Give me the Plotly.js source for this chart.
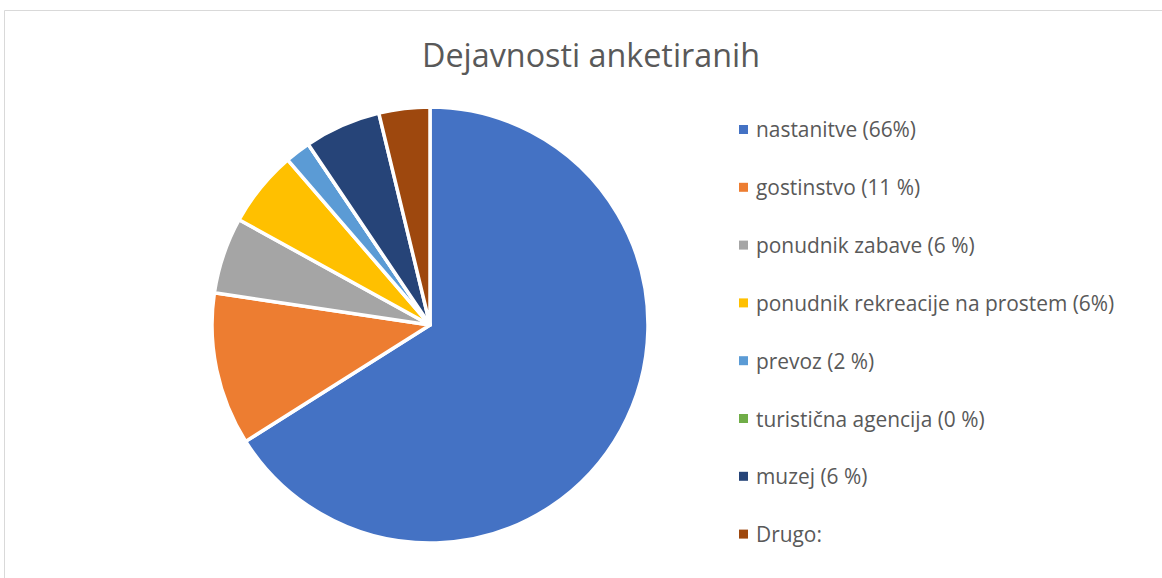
<!DOCTYPE html>
<html>
<head>
<meta charset="utf-8">
<script src="https://cdn.plot.ly/plotly-3.0.1.min.js"></script>
<style>html,body{margin:0;padding:0;background:#fff;}#chart{width:1162px;height:578px;}</style>
</head>
<body>
<div id="chart"></div>
<script>
const titleText = "Dejavnosti anketiranih";
const labels = ["nastanitve (66%)", "gostinstvo (11 %)", "ponudnik zabave (6 %)", "ponudnik rekreacije na prostem (6%)", "prevoz (2 %)", "turistična agencija (0 %)", "muzej (6 %)", "Drugo:"];
const values = [35, 6, 3, 3, 1, 0, 3, 2];
const colors = ["#4472C4", "#ED7D31", "#A5A5A5", "#FFC000", "#5B9BD5", "#70AD47", "#264478", "#9E480E"];

const W = 1162, H = 578;
const px = x => x / W;
const py = y => 1 - y / H;

const FONT = "'Open Sans', sans-serif";
const TXT = "#595959";

const annotations = [];
const shapes = [];
// chart frame
shapes.push({type: "line", xref: "paper", yref: "paper", x0: px(4.5), x1: px(1170), y0: py(10.5), y1: py(10.5), line: {color: "#D9D9D9", width: 1}});
shapes.push({type: "line", xref: "paper", yref: "paper", x0: px(4.5), x1: px(4.5), y0: py(10.5), y1: py(590), line: {color: "#D9D9D9", width: 1}});

const legTop = 129.5, legStep = 57.8;
labels.forEach((lab, i) => {
  const cy = legTop + i * legStep;
  shapes.push({type: "rect", xref: "paper", yref: "paper", x0: px(739), x1: px(748), y0: py(cy - 4.5), y1: py(cy + 4.5), fillcolor: colors[i], line: {width: 0}});
  annotations.push({xref: "paper", yref: "paper", x: px(754), y: py(cy), xanchor: "left", yanchor: "middle", showarrow: false, text: lab, font: {family: FONT, size: 20.9, color: TXT}});
});

const data = [{
  type: "pie",
  labels: labels,
  values: values,
  sort: false,
  direction: "clockwise",
  rotation: 0,
  textinfo: "none",
  hoverinfo: "label+value+percent",
  marker: {colors: colors, line: {color: "#FFFFFF", width: 3.5}},
  domain: {x: [px(212), px(648)], y: [py(543), py(107)]},
  showlegend: false
}];

const layout = {
  width: W, height: H,
  margin: {l: 0, r: 0, t: 0, b: 0},
  paper_bgcolor: "#FFFFFF",
  title: {text: titleText, x: px(591), xanchor: "center", y: py(56), yanchor: "middle", font: {family: FONT, size: 32.3, color: TXT}},
  showlegend: false,
  annotations: annotations,
  shapes: shapes
};

Plotly.newPlot("chart", data, layout, {displayModeBar: false, staticPlot: true});
</script>
</body>
</html>
